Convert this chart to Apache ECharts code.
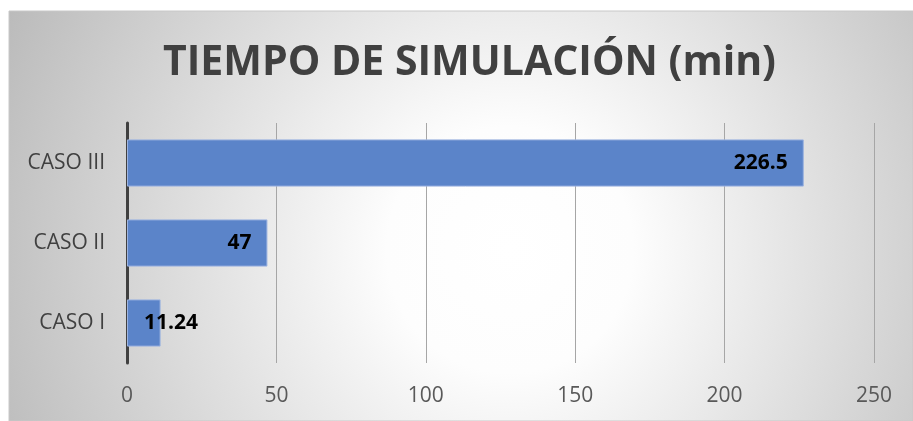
<!DOCTYPE html>
<html>
<head>
<meta charset="utf-8">
<script src="https://cdn.jsdelivr.net/npm/echarts@6/dist/echarts.min.js"></script>
<style>
html,body{margin:0;padding:0;background:#ffffff;}
#chart{width:913px;height:421px;}
</style>
</head>
<body>
<div id="chart"></div>
<script>
const titleText = 'TIEMPO DE SIMULACIÓN (min)';
const categories = ['CASO I', 'CASO II', 'CASO III'];
const values = [11.24, 47, 226.5];
const valueLabels = ['11.24', '47', '226.5'];
const xTicks = [0, 50, 100, 150, 200, 250];

const chart = echarts.init(document.getElementById('chart'), null, {renderer: 'canvas'});

const seriesData = values.map((v, i) => {
  const item = {value: v};
  if (i === 0) {
    item.label = {position: 'insideLeft', distance: 17};
  }
  return item;
});

const option = {
  animation: false,
  backgroundColor: '#ffffff',
  graphic: [{
    type: 'rect',
    z: -10,
    silent: true,
    shape: {x: 9, y: 11, width: 904, height: 410},
    style: {
      fill: {
        type: 'radial', x: 510, y: 250, r: 560, global: true,
        colorStops: [
          {offset: 0, color: '#ffffff'},
          {offset: 0.22, color: '#fdfdfd'},
          {offset: 1, color: '#bababa'}
        ]
      },
      stroke: '#c8c8c8', lineWidth: 1
    }
  }],
  title: {
    text: titleText,
    left: 158,
    top: 38,
    textStyle: {fontFamily: 'Open Sans', fontWeight: 'bold', fontSize: 41, color: '#404040'}
  },
  grid: {left: 127, right: 39, top: 123, bottom: 58, containLabel: false},
  xAxis: {
    type: 'value',
    min: xTicks[0],
    max: xTicks[xTicks.length - 1],
    interval: xTicks[1] - xTicks[0],
    axisLine: {show: false},
    axisTick: {show: false},
    splitLine: {show: true, lineStyle: {color: '#a6a6a6', width: 1}},
    axisLabel: {color: '#595959', fontFamily: 'Open Sans', fontSize: 21, margin: 23}
  },
  yAxis: {
    type: 'category',
    data: categories,
    axisLine: {show: true, lineStyle: {color: '#404040', width: 3}},
    axisTick: {show: false},
    axisLabel: {color: '#404040', fontFamily: 'Open Sans', fontSize: 21, margin: 22}
  },
  series: [{
    type: 'bar',
    data: seriesData,
    barCategoryGap: '41%',
    itemStyle: {color: '#5b84c9', borderColor: '#9cb3e0', borderWidth: 1},
    label: {
      show: true,
      position: 'insideRight',
      distance: 16,
      formatter: p => valueLabels[p.dataIndex],
      color: '#000000',
      fontFamily: 'Open Sans',
      fontWeight: 'bold',
      fontSize: 21
    }
  }]
};
chart.setOption(option);
</script>
</body>
</html>
